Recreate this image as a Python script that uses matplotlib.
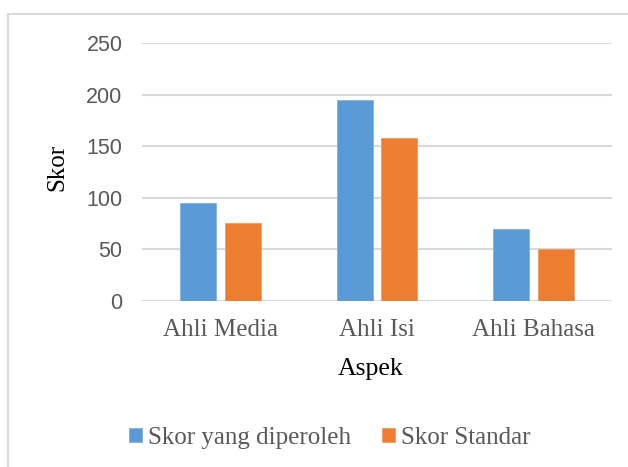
import matplotlib
matplotlib.use("Agg")
import matplotlib.pyplot as plt
from matplotlib.patches import Rectangle
import numpy as np

categories = ["Ahli Media", "Ahli Isi", "Ahli Bahasa"]
skor_diperoleh = [95, 195, 70]
skor_standar = [75, 158, 50]
series_names = ["Skor yang diperoleh", "Skor Standar"]
y_ticks = [0, 50, 100, 150, 200, 250]

W, H = 628, 467
fig = plt.figure(figsize=(W / 100, H / 100), dpi=100)

# light frame of the chart area (cut off at right and bottom)
fig.patches.append(Rectangle((8 / W, -0.1), 1.2, (H - 14) / H + 0.1,
                             transform=fig.transFigure, fill=False,
                             edgecolor="#d9d9d9", linewidth=1.5))

ax = fig.add_axes([142 / W, (H - 300.7) / H, 470 / W, (300.7 - 43) / H])

x = np.arange(len(categories))
bw = 0.228
off = 0.1425
ax.bar(x - off, skor_diperoleh, bw, color="#5b9bd5", edgecolor="#7fb2e0",
       linewidth=0.6, label=series_names[0], zorder=3)
ax.bar(x + off, skor_standar, bw, color="#ed7d31", edgecolor="#f39b63",
       linewidth=0.6, label=series_names[1], zorder=3)

ax.set_xlim(-0.5, 2.5)
ax.set_ylim(0, 250)
ax.set_yticks(y_ticks)
ax.set_xticks(x)
ax.set_xticklabels(categories, family="Liberation Serif", fontsize=18, color="#595959")
ax.tick_params(axis="y", length=0, pad=14, labelsize=15.5, labelcolor="#595959")
ax.tick_params(axis="x", length=0, pad=13)
for lab in ax.get_yticklabels():
    lab.set_family("Liberation Sans")
ax.grid(axis="y", color="#d9d9d9", linewidth=1.5, zorder=0)
ax.set_axisbelow(True)
for s in ax.spines.values():
    s.set_visible(False)

fig.text(370.5 / W, 1 - 369 / H, "Aspek", family="Liberation Serif",
         fontsize=18.5, color="black", ha="center", va="center")
fig.text(57 / W, 1 - 167 / H, "Skor", family="Liberation Serif",
         fontsize=18, color="black", ha="center", va="center", rotation=90)

fig.legend(loc="center", bbox_to_anchor=(330 / W, 1 - 438 / H), ncol=2,
           frameon=False, prop={"family": "Liberation Serif", "size": 18},
           labelcolor="#595959", handlelength=0.5, handleheight=0.5,
           handletextpad=0.25, columnspacing=1.25)

fig.savefig("out.png", dpi=100)
